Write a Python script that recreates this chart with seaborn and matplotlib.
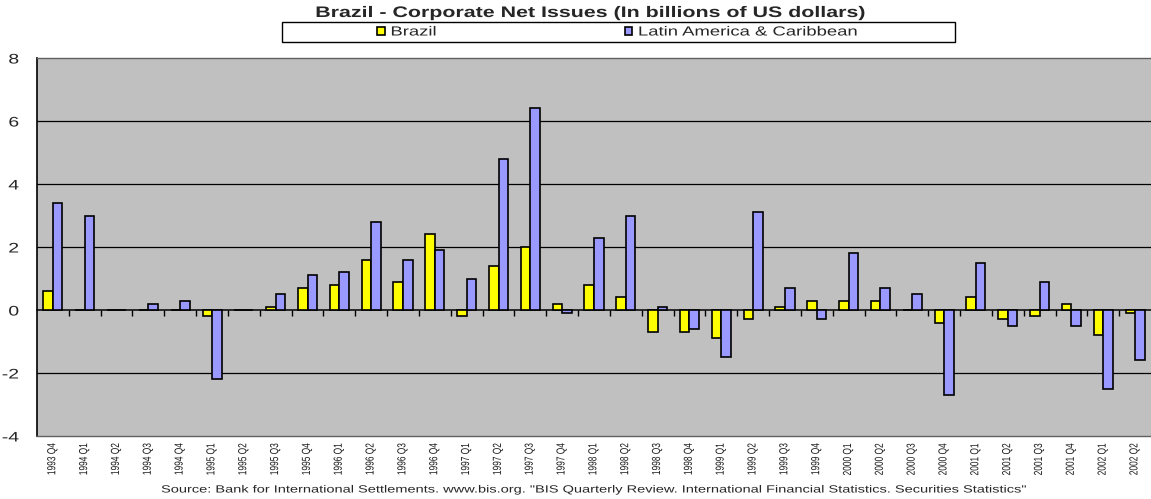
import matplotlib
matplotlib.use("Agg")
import matplotlib.pyplot as plt
from matplotlib.patches import Rectangle
from matplotlib.patheffects import AbstractPathEffect
from matplotlib.transforms import Affine2D
import numpy as np
import pandas as pd
import seaborn as sns

quarters = [
    "1993 Q4", "1994 Q1", "1994 Q2", "1994 Q3", "1994 Q4",
    "1995 Q1", "1995 Q2", "1995 Q3", "1995 Q4",
    "1996 Q1", "1996 Q2", "1996 Q3", "1996 Q4",
    "1997 Q1", "1997 Q2", "1997 Q3", "1997 Q4",
    "1998 Q1", "1998 Q2", "1998 Q3", "1998 Q4",
    "1999 Q1", "1999 Q2", "1999 Q3", "1999 Q4",
    "2000 Q1", "2000 Q2", "2000 Q3", "2000 Q4",
    "2001 Q1", "2001 Q2", "2001 Q3", "2001 Q4",
    "2002 Q1", "2002 Q2",
]
brazil = [
    0.6, 0.0, 0.0, 0.0, 0.0,
    -0.2, 0.0, 0.1, 0.7,
    0.8, 1.6, 0.9, 2.4,
    -0.2, 1.4, 2.0, 0.2,
    0.8, 0.4, -0.7, -0.7,
    -0.9, -0.3, 0.1, 0.3,
    0.3, 0.3, 0.0, -0.4,
    0.4, -0.3, -0.2, 0.2,
    -0.8, -0.1,
]
latam = [
    3.4, 3.0, 0.0, 0.2, 0.3,
    -2.2, 0.0, 0.5, 1.1,
    1.2, 2.8, 1.6, 1.9,
    1.0, 4.8, 6.4, -0.1,
    2.3, 3.0, 0.1, -0.6,
    -1.5, 3.1, 0.7, -0.3,
    1.8, 0.7, 0.5, -2.7,
    1.5, -0.5, 0.9, -0.5,
    -2.5, -1.6,
]
series_names = ["Brazil", "Latin America & Caribbean"]
series_colors = ["#FFFF00", "#9999FF"]
y_ticks = [-4, -2, 0, 2, 4, 6, 8]

title = "Brazil - Corporate Net Issues (In billions of US dollars)"
source = ('Source: Bank for International Settlements. www.bis.org. '
          '"BIS Quarterly Review. International Financial Statistics. Securities Statistics"')

W, H = 1151, 499
STRETCH = 1.4  # wide lettering used throughout the chart


class WideText(AbstractPathEffect):
    """Draws glyphs widened horizontally about a chosen edge of the text."""

    def __init__(self, sx=STRETCH, anchor="center"):
        super().__init__()
        self.sx = sx
        self.anchor = anchor

    def draw_path(self, renderer, gc, tpath, affine, rgbFace=None):
        ext = tpath.get_extents(affine)
        if self.anchor == "left":
            cx = ext.x0
        elif self.anchor == "right":
            cx = ext.x1
        else:
            cx = 0.5 * (ext.x0 + ext.x1)
        wide = affine + Affine2D().translate(-cx, 0).scale(self.sx, 1).translate(cx, 0)
        renderer.draw_path(gc, tpath, wide, rgbFace)


df = pd.DataFrame({
    "quarter": quarters * 2,
    "series": [series_names[0]] * len(quarters) + [series_names[1]] * len(quarters),
    "value": brazil + latam,
})

sns.set_style("white")
plt.rcParams["font.family"] = ["Liberation Sans", "DejaVu Sans"]

fig = plt.figure(figsize=(W / 100, H / 100), dpi=100)
ax = fig.add_axes([37 / W, 1 - 436 / H, 1 - 37 / W, (436 - 58) / H])
ax.set_facecolor("#C0C0C0")

sns.barplot(
    data=df, x="quarter", y="value", hue="series", order=quarters,
    hue_order=series_names, palette=series_colors, width=0.6,
    edgecolor="black", linewidth=1.2, saturation=1, ax=ax, legend=True,
)

ax.set_xlim(-0.5, len(quarters) - 0.5)
ax.set_ylim(y_ticks[0], y_ticks[-1])
ax.set_yticks(y_ticks)
ax.set_yticklabels([str(t) for t in y_ticks], fontsize=10)
ax.set_xlabel("")
ax.set_ylabel("")
ax.tick_params(axis="y", direction="out", length=5, width=1, color="black", pad=8)
ax.tick_params(axis="x", length=0, labelsize=6, labelrotation=90, pad=5,
               labelcolor="#1a1a1a")
for lab in ax.get_yticklabels():
    lab.set_path_effects([WideText(anchor="right")])
for lab in ax.get_xticklabels():
    lab.set_path_effects([WideText(anchor="center")])

# horizontal gridlines between the top border and the floor
for t in y_ticks[1:-1]:
    if t != 0:
        ax.axhline(t, color="black", linewidth=0.9, zorder=0.5)

for side in ["top", "bottom"]:
    ax.spines[side].set_color("#606060")
    ax.spines[side].set_linewidth(1.0)
ax.spines["right"].set_visible(False)
ax.spines["left"].set_color("black")
ax.spines["left"].set_linewidth(1.2)

# category axis along the zero line, with ticks between quarters
zero_frac = (0 - y_ticks[0]) / (y_ticks[-1] - y_ticks[0])
zax = ax.secondary_xaxis(zero_frac)
zax.set_xticks(np.arange(0.5, len(quarters) - 0.5, 1.0))
zax.set_xticklabels([])
zax.tick_params(direction="out", length=4, width=1, color="black")
zax.spines["bottom"].set_color("black")
zax.spines["bottom"].set_linewidth(1.1)

# legend inside a wide white box under the title
handles, labels = ax.get_legend_handles_labels()
ax.get_legend().remove()
box = Rectangle((282 / W, 1 - 42 / H), (955 - 282) / W, 20 / H,
                transform=fig.transFigure, facecolor="white", edgecolor="black",
                linewidth=1.0, zorder=1)
fig.patches.append(box)
leg = fig.legend(handles, labels, loc="center left",
                 bbox_to_anchor=(377 / W, 1 - 32.5 / H), ncol=2, frameon=False,
                 fontsize=9.5, handlelength=0.6, handleheight=0.6,
                 handletextpad=0.45, columnspacing=15.2, borderpad=0,
                 borderaxespad=0)
for txt in leg.get_texts():
    txt.set_path_effects([WideText(anchor="left")])

fig.text(591 / W, 1 - 13 / H, title, ha="center", va="center",
         fontsize=11, fontweight="bold", path_effects=[WideText()])
fig.text(593.5 / W, 1 - 489.5 / H, source, ha="center", va="center",
         fontsize=7.5, path_effects=[WideText()])

fig.savefig("out.png", dpi=100)
